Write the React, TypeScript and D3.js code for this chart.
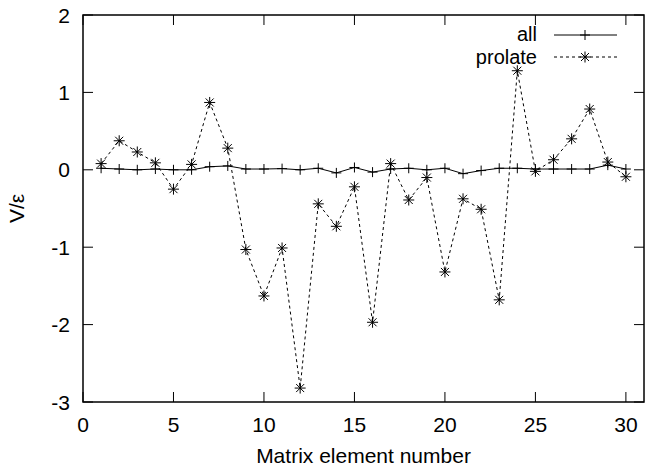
import React, { useEffect } from 'react';
import { scaleLinear, line } from 'd3';

const elements = Array.from({ length: 30 }, (_, i) => i + 1);
const allValues = [0.02, 0.01, 0, 0.01, 0, 0, 0.04, 0.05, 0.01, 0.01, 0.015, 0, 0.02, -0.04, 0.03,
  -0.03, 0.01, 0.02, 0, 0.02, -0.05, -0.01, 0.02, 0.02, 0.01, 0.01, 0.01, 0.01, 0.06, 0.01];
const prolateValues = [0.08, 0.375, 0.23, 0.09, -0.25, 0.07, 0.87, 0.28, -1.03, -1.63, -1.01, -2.82, -0.44, -0.73, -0.22,
  -1.97, 0.08, -0.39, -0.1, -1.32, -0.375, -0.51, -1.68, 1.28, -0.02, 0.13, 0.4, 0.785, 0.1, -0.09];
const xTicks = [0, 5, 10, 15, 20, 25, 30];
const yTicks = [-3, -2, -1, 0, 1, 2];

const W = 657, H = 466;
const left = 83, right = 644, top = 15, bottom = 402;
const font = '"Liberation Sans", Arial, sans-serif';
const fs = 21;
const legendFs = 20;

const plus = 'M-5,0H5M0,-5V5';
const star = 'M-5.5,0H5.5M0,-5.5V5.5M-4,-4L4,4M-4,4L4,-4';

const App = () => {
  useEffect(() => { document.body.style.margin = '0'; }, []);

  const x = scaleLinear().domain([0, 31]).range([left, right]);
  const y = scaleLinear().domain([-3, 2]).range([bottom, top]);

  const path = (vals: number[]) =>
    line<number>().x((d, i) => x(elements[i])).y(d => y(d))(vals) || '';

  return (
    <svg width={W} height={H} style={{ display: 'block' }} fontFamily={font}>
      <rect x={0} y={0} width={W} height={H} fill="#fff" />
      {/* ticks */}
      {xTicks.map(t => (
        <g key={'x' + t}>
          <line x1={x(t)} x2={x(t)} y1={bottom} y2={bottom - 10} stroke="#000" />
          <line x1={x(t)} x2={x(t)} y1={top} y2={top + 10} stroke="#000" />
          <text x={x(t)} y={432} fontSize={fs} textAnchor="middle">{t}</text>
        </g>
      ))}
      {yTicks.map(t => (
        <g key={'y' + t}>
          <line x1={left} x2={left + 10} y1={y(t)} y2={y(t)} stroke="#000" />
          <line x1={right} x2={right - 10} y1={y(t)} y2={y(t)} stroke="#000" />
          <text x={70} y={y(t) + 7.5} fontSize={fs} textAnchor="end">{t}</text>
        </g>
      ))}
      {/* series */}
      <path d={path(allValues)} fill="none" stroke="#000" strokeWidth={1} />
      {allValues.map((v, i) => (
        <path key={'a' + i} d={plus} transform={`translate(${x(elements[i])},${y(v)})`} stroke="#000" />
      ))}
      <path d={path(prolateValues)} fill="none" stroke="#000" strokeWidth={1} strokeDasharray="3,3" />
      {prolateValues.map((v, i) => (
        <path key={'p' + i} d={star} transform={`translate(${x(elements[i])},${y(v)})`} stroke="#000" />
      ))}
      {/* frame */}
      <rect x={left} y={top} width={right - left} height={bottom - top} fill="none" stroke="#000" strokeWidth={1.5} />
      {/* legend */}
      <text x={537} y={41} fontSize={legendFs} textAnchor="end">all</text>
      <line x1={554} x2={617} y1={35} y2={35} stroke="#000" />
      <path d={plus} transform="translate(585,35)" stroke="#000" />
      <text x={537} y={64} fontSize={legendFs} textAnchor="end">prolate</text>
      <line x1={554} x2={617} y1={57} y2={57} stroke="#000" strokeDasharray="3,3" />
      <path d={star} transform="translate(585,57)" stroke="#000" />
      {/* axis labels */}
      <text x={(left + right) / 2} y={463} fontSize={fs} textAnchor="middle">Matrix element number</text>
      <text transform={`translate(24,${(top + bottom) / 2}) rotate(-90)`} fontSize={fs} textAnchor="middle">V/ε</text>
    </svg>
  );
};

export default App;
